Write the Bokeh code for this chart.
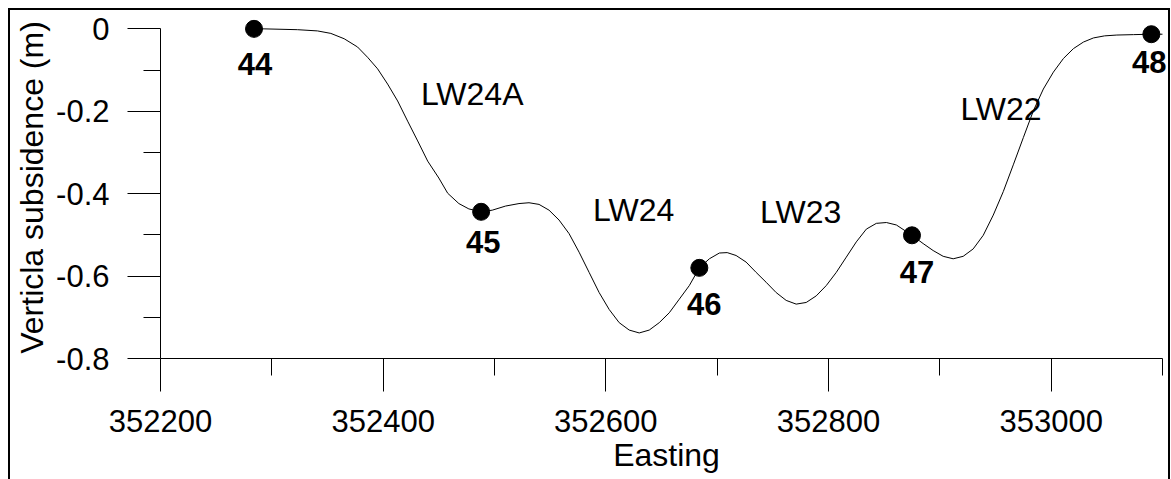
from bokeh.plotting import figure
from bokeh.models import (ColumnDataSource, LabelSet, FixedTicker, Range1d,
                          PrintfTickFormatter, BasicTickFormatter)
from bokeh.core.properties import value
from bokeh.embed import file_html
from bokeh.resources import INLINE

# ---- data ----
curve_easting = [352284, 352293, 352323, 352341, 352353, 352365, 352377, 352386, 352395,
                 352404, 352413, 352422, 352431, 352440, 352450, 352458, 352468, 352477,
                 352488, 352498, 352510, 352522, 352531, 352540, 352549, 352558, 352567,
                 352576, 352585, 352594, 352603, 352612, 352621, 352630, 352639, 352648,
                 352657, 352666, 352675, 352684, 352693, 352702, 352709, 352717, 352726,
                 352735, 352744, 352753, 352762, 352771, 352780, 352789, 352798, 352807,
                 352816, 352825, 352834, 352843, 352852, 352861, 352875, 352885, 352894,
                 352903, 352912, 352921, 352930, 352939, 352948, 352957, 352966, 352975,
                 352984, 352993, 353002, 353011, 353020, 353029, 353038, 353048, 353059,
                 353074, 353090, 353100]
curve_subsidence = [0.0, 0.0, -0.002, -0.005, -0.011, -0.024, -0.044, -0.069, -0.097,
                    -0.134, -0.175, -0.224, -0.272, -0.321, -0.362, -0.399, -0.424, -0.437,
                    -0.444, -0.440, -0.430, -0.424, -0.422, -0.426, -0.440, -0.464, -0.497,
                    -0.542, -0.591, -0.640, -0.681, -0.713, -0.731, -0.738, -0.731, -0.713,
                    -0.689, -0.656, -0.623, -0.580, -0.558, -0.544, -0.543, -0.550, -0.566,
                    -0.591, -0.615, -0.640, -0.659, -0.668, -0.664, -0.648, -0.623, -0.591,
                    -0.554, -0.517, -0.486, -0.472, -0.470, -0.476, -0.501, -0.521, -0.538,
                    -0.552, -0.558, -0.552, -0.534, -0.501, -0.452, -0.395, -0.330, -0.264,
                    -0.199, -0.146, -0.105, -0.072, -0.048, -0.032, -0.022, -0.017, -0.015,
                    -0.014, -0.013, -0.013]

station_easting = [352284, 352488, 352684, 352875, 353090]
station_subsidence = [0.0, -0.444, -0.580, -0.501, -0.013]
station_names = ["44", "45", "46", "47", "48"]

panel_easting = [352480, 352625, 352775, 352955]
panel_subsidence = [-0.157, -0.439, -0.444, -0.194]
panel_names = ["LW24A", "LW24", "LW23", "LW22"]

x_major = [352200, 352400, 352600, 352800, 353000]
x_minor = [352300, 352500, 352700, 352900, 353100]
y_major = [0, -0.2, -0.4, -0.6, -0.8]
y_minor = [-0.1, -0.3, -0.5, -0.7]

x_title = "Easting"
y_title = "Verticla subsidence (m)"

# ---- styling / layout ----
FONT = "Liberation Sans"
label_dx = [1, 2, 5, 5, -2]
label_dy = [-35, -30, -36, -37, -28]

p = figure(width=1158, height=469, output_backend="svg", toolbar_location=None,
           x_range=Range1d(352200, 353109), y_range=Range1d(-0.8, 0.03),
           min_border_left=150, min_border_right=0, min_border_top=6,
           min_border_bottom=123)
p.styles = {"margin-left": "8px", "margin-top": "8px", "box-sizing": "content-box",
            "border-top": "2px solid black", "border-left": "2px solid black",
            "border-right": "2px solid black"}
p.background_fill_color = "white"
p.border_fill_color = "white"
p.outline_line_color = None
p.xgrid.visible = False
p.ygrid.visible = False

for ax in (p.xaxis[0], p.yaxis[0]):
    ax.axis_line_color = "black"
    ax.axis_line_width = 1
    ax.major_tick_line_color = "black"
    ax.minor_tick_line_color = "black"
    ax.major_tick_in = 0
    ax.minor_tick_in = 0
    ax.major_tick_out = 33
    ax.minor_tick_out = 17
    ax.major_label_text_font = FONT
    ax.major_label_text_font_size = "31px"
    ax.major_label_text_color = "black"
    ax.major_label_standoff = 18
    ax.axis_label_text_font = FONT
    ax.axis_label_text_font_size = "32px"
    ax.axis_label_text_font_style = "normal"
    ax.axis_label_text_color = "black"

p.xaxis.ticker = FixedTicker(ticks=x_major, minor_ticks=x_minor)
p.xaxis.formatter = BasicTickFormatter(use_scientific=False)
p.xaxis.bounds = (352200, 353100)
p.xaxis.axis_label = x_title
p.xaxis.axis_label_standoff = 2
p.yaxis.ticker = FixedTicker(ticks=y_major, minor_ticks=y_minor)
p.yaxis.formatter = PrintfTickFormatter(format="%g")
p.yaxis.bounds = (-0.8, 0)
p.yaxis.axis_label = y_title
p.yaxis.axis_label_standoff = 3

p.line(curve_easting, curve_subsidence, line_color="black", line_width=1)
p.scatter(station_easting, station_subsidence, size=17, marker="circle",
          fill_color="black", line_color="black")

p.text(x=panel_easting, y=panel_subsidence, text=panel_names,
       text_align="center", text_baseline="middle",
       text_font=value(FONT), text_font_size="32px", text_color="black")

src = ColumnDataSource(dict(x=station_easting, y=station_subsidence,
                            text=station_names, dx=label_dx, dy=label_dy))
p.add_layout(LabelSet(x="x", y="y", text="text", x_offset="dx", y_offset="dy",
                      source=src, text_align="center", text_baseline="middle",
                      text_font=value(FONT), text_font_size="31px",
                      text_font_style="bold", text_color="black"))

open("out.html", "w").write(file_html(p, INLINE))
